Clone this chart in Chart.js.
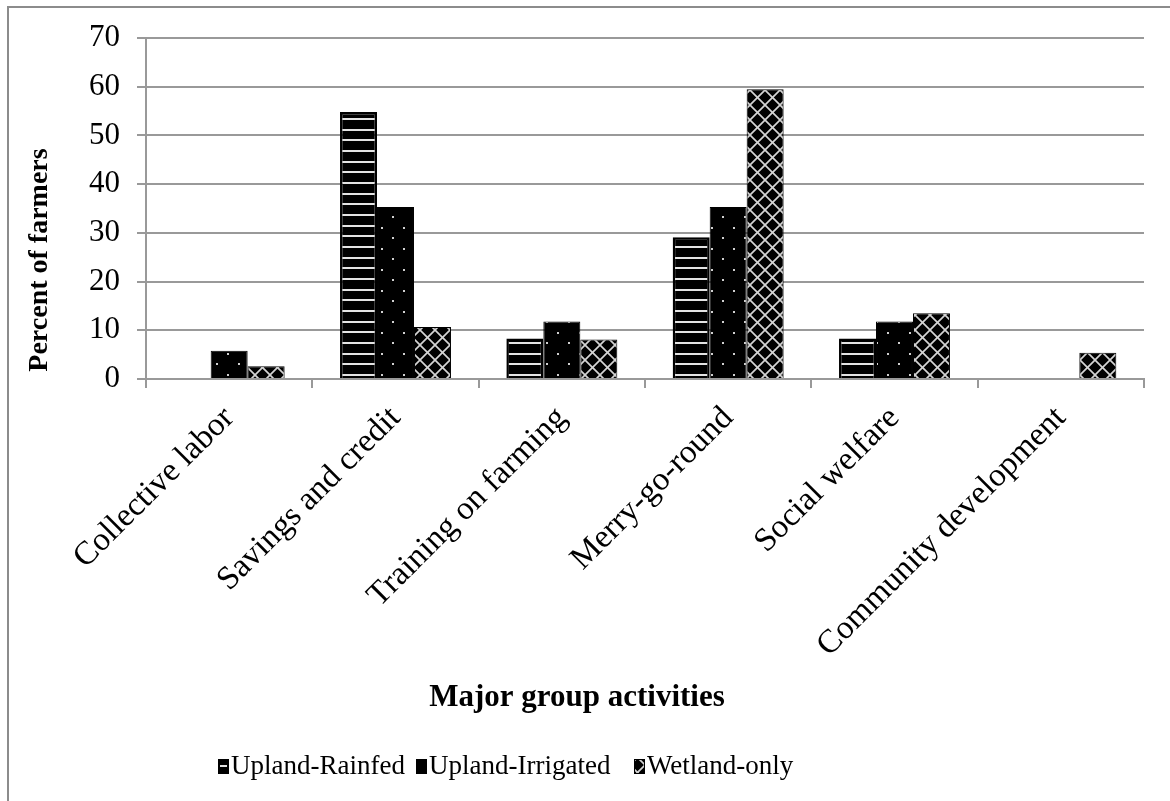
<!DOCTYPE html>
<html>
<head>
<meta charset="utf-8">
<script src="https://cdn.jsdelivr.net/npm/chart.js@4.4.1/dist/chart.umd.min.js"></script>
<style>
html,body{margin:0;padding:0;background:#fff;}
#wrap{width:1170px;height:801px;position:relative;}
canvas{display:block;}
</style>
</head>
<body>
<div id="wrap"><canvas id="c" width="1170" height="801"></canvas></div>
<script>
// ---- data ----
const categories = ['Collective labor', 'Savings and credit', 'Training on farming', 'Merry-go-round', 'Social welfare', 'Community development'];
const seriesNames = ['Upland-Rainfed', 'Upland-Irrigated', 'Wetland-only'];
const uplandRainfed = [0, 54.8, 8.3, 29.1, 8.3, 0];
const uplandIrrigated = [5.8, 35.3, 11.8, 35.3, 11.8, 0];
const wetlandOnly = [2.6, 10.7, 8.1, 59.5, 13.5, 5.4];
const yTicks = [0, 10, 20, 30, 40, 50, 60, 70];
const xTitle = 'Major group activities';
const yTitle = 'Percent of farmers';

const FONT = '"Liberation Serif", "Times New Roman", serif';
Chart.defaults.font.family = FONT;
Chart.defaults.color = '#000';

// ---- patterns ----
function makeTile(w, h, draw) {
  const c = document.createElement('canvas');
  c.width = w; c.height = h;
  const g = c.getContext('2d');
  g.fillStyle = '#000';
  g.fillRect(0, 0, w, h);
  draw(g, w, h);
  return document.getElementById('c').getContext('2d').createPattern(c, 'repeat');
}
const stripePattern = makeTile(8, 32, (g, w) => {
  g.fillStyle = '#e4e4e4';
  [2, 12, 23].forEach(y => g.fillRect(0, y - 1, w, 2));
});
const dotPattern = makeTile(22, 21, (g) => {
  g.fillStyle = '#d0d0d0';
  g.fillRect(7, 17, 2, 2);
  g.fillRect(18, 6, 2, 2);
});
const crossPattern = makeTile(15, 15, (g, w, h) => {
  g.strokeStyle = '#d4d4d4';
  g.lineWidth = 1.7;
  [-w, 0, w].forEach(o => {
    g.beginPath(); g.moveTo(o, 0); g.lineTo(o + w, h); g.stroke();
    g.beginPath(); g.moveTo(o + w, 0); g.lineTo(o, h); g.stroke();
  });
});

// ---- frame, titles and legend plugin ----
const legendBoxX = [218, 416, 634];
const legendShift = [-4, 0, 0];
const framePlugin = {
  id: 'frame',
  afterDraw(chart) {
    const ctx = chart.ctx;
    ctx.save();
    ctx.strokeStyle = '#8c8c8c';
    ctx.lineWidth = 2;
    ctx.beginPath();
    ctx.moveTo(8, 801); ctx.lineTo(8, 7); ctx.lineTo(1170, 7);
    ctx.stroke();

    // legend
    ctx.textAlign = 'left';
    ctx.textBaseline = 'middle';
    ctx.font = '27px ' + FONT;
    chart.data.datasets.forEach((ds, i) => {
      const bx = legendBoxX[i], by = 759, bw = 11, bh = 15;
      ctx.fillStyle = '#000';
      ctx.fillRect(bx, by, bw, bh);
      const inset = i === 0 ? 2 : 1;
      ctx.save();
      ctx.translate(0, legendShift[i]);
      ctx.fillStyle = ds.backgroundColor;
      ctx.fillRect(bx + inset, by + inset - legendShift[i], bw - 2 * inset, bh - 2 * inset);
      ctx.restore();
      ctx.fillStyle = '#000';
      ctx.fillText(ds.label, bx + 13, 767);
    });

    // axis titles
    ctx.fillStyle = '#000';
    ctx.textAlign = 'center';
    ctx.font = 'bold 31px ' + FONT;
    ctx.fillText(xTitle, 577, 698);
    ctx.font = 'bold 28px ' + FONT;
    ctx.translate(40, 260);
    ctx.rotate(-Math.PI / 2);
    ctx.fillText(yTitle, 0, 0);
    ctx.restore();
  }
};

new Chart(document.getElementById('c'), {
  type: 'bar',
  data: {
    labels: categories,
    datasets: [
      { label: seriesNames[0], data: uplandRainfed, backgroundColor: stripePattern, borderColor: '#000', borderWidth: 2.5 },
      { label: seriesNames[1], data: uplandIrrigated, backgroundColor: dotPattern, borderColor: '#000', borderWidth: 1 },
      { label: seriesNames[2], data: wetlandOnly, backgroundColor: crossPattern, borderColor: '#000', borderWidth: 1 }
    ]
  },
  options: {
    responsive: false,
    animation: false,
    devicePixelRatio: 1,
    layout: { padding: { left: 62, right: 26, top: 38, bottom: 0 } },
    datasets: { bar: { categoryPercentage: 0.667, barPercentage: 1 } },
    scales: {
      x: {
        grid: { offset: true, drawOnChartArea: false, drawTicks: true, tickLength: 9, color: '#999', lineWidth: 2 },
        border: { color: '#999', width: 2 },
        ticks: { font: { size: 33 }, color: '#000', maxRotation: 45, minRotation: 45, autoSkip: false, padding: 11 },
        afterFit(s) { s.height = 422; }
      },
      y: {
        min: 0, max: 70,
        afterBuildTicks(s) { s.ticks = yTicks.map(v => ({ value: v })); },
        grid: { color: '#999', lineWidth: 2, tickLength: 9, drawTicks: true },
        border: { color: '#999', width: 2 },
        ticks: { font: { size: 31 }, color: '#000', padding: 17 },
        afterFit(s) { s.width = 84; }
      }
    },
    plugins: {
      legend: { display: false },
      tooltip: { enabled: false }
    }
  },
  plugins: [framePlugin]
});
</script>
</body>
</html>
